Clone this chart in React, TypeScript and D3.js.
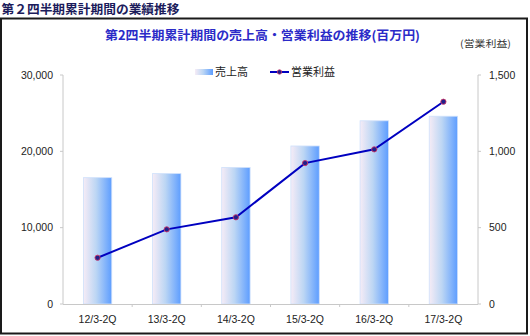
import React from 'react';
import * as d3 from 'd3';

const categories = ['12/3-2Q', '13/3-2Q', '14/3-2Q', '15/3-2Q', '16/3-2Q', '17/3-2Q'];
const sales = [16550, 17080, 17880, 20700, 24000, 24600];
const opProfit = [303, 489, 568, 923, 1013, 1325];
const leftTicks = [0, 10000, 20000, 30000];
const rightTicks = [0, 500, 1000, 1500];

const W = 530, H = 336;
const plot = { left: 63, right: 478, top: 75, bottom: 304 };
const jp = '"Noto Sans CJK JP", "Noto Sans", sans-serif';
const lat = '"Liberation Sans", Arial, sans-serif';
const axisColor = '#c8c8c8';

export default function App() {
  const x = d3.scaleBand<string>().domain(categories).range([plot.left, plot.right]).paddingInner(0).paddingOuter(0);
  const yL = d3.scaleLinear().domain([0, 30000]).range([plot.bottom, plot.top]);
  const yR = d3.scaleLinear().domain([0, 1500]).range([plot.bottom, plot.top]);
  const bw = x.bandwidth() * 0.41;
  const fmt = d3.format(',');
  const line = d3.line<number>()
    .x((_, i) => (x(categories[i]) as number) + x.bandwidth() / 2)
    .y((d) => yR(d));

  return (
    <svg width={W} height={H} style={{ position: 'absolute', left: 0, top: 0, background: '#fff' }}>
      <defs>
        <linearGradient id="barGrad" x1="0" y1="0" x2="1" y2="0">
          <stop offset="0" stopColor="#f6ecf6" />
          <stop offset="0.45" stopColor="#bcd6f4" />
          <stop offset="1" stopColor="#5d9dff" />
        </linearGradient>
      </defs>
      <text x={1.5} y={13.5} fontFamily={jp} fontWeight="bold" fontSize={12.5} fill="#1c1c5c" textLength={178} lengthAdjust="spacingAndGlyphs">第２四半期累計期間の業績推移</text>
      <rect x={1} y={18.5} width={526} height={315} fill="none" stroke="#1a1a1a" strokeWidth={2} />
      <text x={105} y={40} fontFamily={jp} fontWeight="bold" fontSize={12.5} fill="#2b2bc8" textLength={315} lengthAdjust="spacingAndGlyphs">第2四半期累計期間の売上高・営業利益の推移(百万円)</text>
      <text x={460} y={47} fontFamily={jp} fontSize={9.5} fill="#333" textLength={51} lengthAdjust="spacingAndGlyphs">(営業利益)</text>

      {/* legend */}
      <rect x={195} y={69} width={18} height={6} fill="url(#barGrad)" />
      <text x={215} y={76} fontFamily={jp} fontSize={11} fill="#222">売上高</text>
      <line x1={270} x2={289} y1={72} y2={72} stroke="#0000c0" strokeWidth={2} />
      <circle cx={279.5} cy={72} r={2.2} fill="#20208a" stroke="#cc3366" strokeWidth={0.8} />
      <text x={291} y={76} fontFamily={jp} fontSize={11} fill="#222">営業利益</text>

      {/* bars */}
      {sales.map((v, i) => {
        const cx = (x(categories[i]) as number) + x.bandwidth() / 2;
        return (
          <rect key={i} x={cx - bw / 2} y={yL(v)} width={bw} height={plot.bottom - yL(v)} fill="url(#barGrad)" stroke="#cfe0fb" strokeWidth={0.8} />
        );
      })}

      {/* axes */}
      <line x1={plot.left} x2={plot.left} y1={plot.top} y2={plot.bottom} stroke={axisColor} />
      <line x1={plot.right} x2={plot.right} y1={plot.top} y2={plot.bottom} stroke={axisColor} />
      <line x1={plot.left} x2={plot.right} y1={plot.bottom + 0.5} y2={plot.bottom + 0.5} stroke={axisColor} />
      {leftTicks.map((t) => (
        <g key={'l' + t}>
          <line x1={plot.left - 3} x2={plot.left} y1={yL(t)} y2={yL(t)} stroke={axisColor} />
          <text x={53} y={yL(t) + 3.8} textAnchor="end" fontFamily={lat} fontSize={10.5} fill="#222">{fmt(t)}</text>
        </g>
      ))}
      {rightTicks.map((t) => (
        <g key={'r' + t}>
          <line x1={plot.right} x2={plot.right + 3} y1={yR(t)} y2={yR(t)} stroke={axisColor} />
          <text x={489} y={yR(t) + 3.8} textAnchor="start" fontFamily={lat} fontSize={10.5} fill="#222">{fmt(t)}</text>
        </g>
      ))}
      {categories.map((c, i) => (
        <g key={c}>
          {i > 0 && <line x1={x(c) as number} x2={x(c) as number} y1={plot.bottom} y2={plot.bottom + 3} stroke={axisColor} />}
          <text x={(x(c) as number) + x.bandwidth() / 2} y={323} textAnchor="middle" fontFamily={lat} fontSize={10.5} fill="#222">{c}</text>
        </g>
      ))}

      {/* line */}
      <path d={line(opProfit) as string} fill="none" stroke="#0000c0" strokeWidth={2} />
      {opProfit.map((v, i) => (
        <circle key={i} cx={(x(categories[i]) as number) + x.bandwidth() / 2} cy={yR(v)} r={2.6} fill="#20208a" stroke="#cc3366" strokeWidth={0.9} />
      ))}
    </svg>
  );
}
